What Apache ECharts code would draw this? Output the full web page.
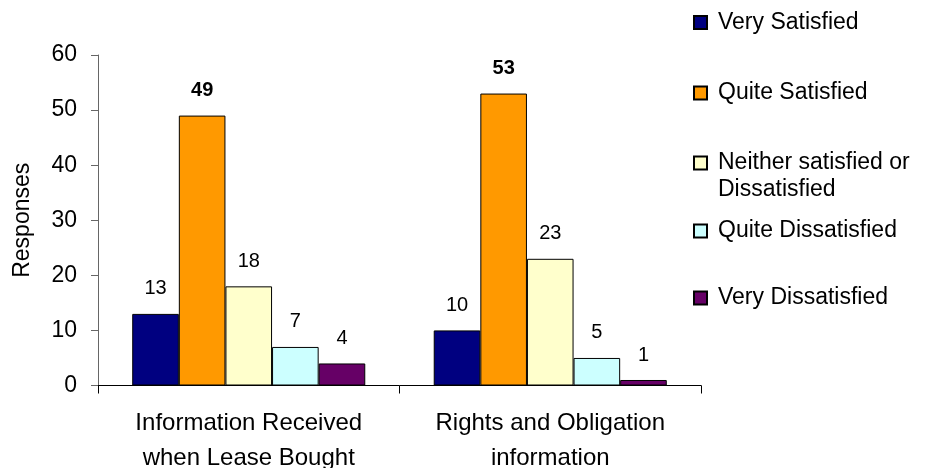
<!DOCTYPE html>
<html>
<head>
<meta charset="utf-8">
<script src="https://cdn.jsdelivr.net/npm/echarts@6/dist/echarts.min.js"></script>
<style>
  html, body { margin: 0; padding: 0; background: #fff; }
  #chart { width: 928px; height: 468px; }
</style>
</head>
<body>
<div id="chart"></div>
<script>
// Survey responses per information topic, split by satisfaction level
const categories = [
  'Information Received\nwhen Lease Bought',
  'Rights and Obligation\ninformation'
];
const seriesNames = [
  'Very Satisfied',
  'Quite Satisfied',
  'Neither satisfied or Dissatisfied',
  'Quite Dissatisfied',
  'Very Dissatisfied'
];
const legendLabels = [
  'Very Satisfied',
  'Quite Satisfied',
  'Neither satisfied or\nDissatisfied',
  'Quite Dissatisfied',
  'Very Dissatisfied'
];
const verySatisfied = [13, 10];
const quiteSatisfied = [49, 53];
const neither = [18, 23];
const quiteDissatisfied = [7, 5];
const veryDissatisfied = [4, 1];
const yTicks = [0, 10, 20, 30, 40, 50, 60];

const seriesValues = [verySatisfied, quiteSatisfied, neither, quiteDissatisfied, veryDissatisfied];
const colors = ['#000080', '#FF9900', '#FFFFCC', '#CCFFFF', '#660066'];
const boldLabel = [false, true, false, false, false];
const legendTops = [9, 79.5, 122.5, 217.5, 284.5];

const FONT = 'Arial, "Liberation Sans", sans-serif';

const chart = echarts.init(document.getElementById('chart'), null, { renderer: 'canvas' });

const series = seriesNames.map((name, i) => ({
  name: name,
  type: 'bar',
  data: seriesValues[i],
  barGap: '0%',
  barCategoryGap: '22.7%',
  itemStyle: { color: colors[i], borderColor: '#000', borderWidth: 1 },
  label: {
    show: true,
    position: 'top',
    distance: 15,
    color: '#000',
    fontFamily: FONT,
    fontSize: 20,
    fontWeight: boldLabel[i] ? 'bold' : 'normal'
  },
  emphasis: { disabled: true },
  animation: false
}));

// Multi-line entries keep their marker beside the first line: an empty
// leading line puts the first text line in the middle of the block.
const legendText = (label) => {
  const lines = label.split('\n');
  return lines.length > 1 ? '\n' + label : label;
};

const legends = seriesNames.map((name, i) => ({
  left: 693,
  top: legendTops[i],
  orient: 'vertical',
  padding: 0,
  icon: 'rect',
  itemWidth: 13,
  itemHeight: 13,
  selectedMode: false,
  data: [name],
  formatter: () => legendText(legendLabels[i]),
  textStyle: {
    color: '#000',
    fontFamily: FONT,
    fontSize: 23,
    lineHeight: 27,
    padding: [0, 0, 0, 6]
  }
}));

chart.setOption({
  animation: false,
  backgroundColor: '#fff',
  grid: { left: 98, right: 227, top: 55, bottom: 82.5, containLabel: false, outerBoundsMode: 'none' },
  legend: legends,
  xAxis: {
    type: 'category',
    data: categories,
    axisLine: { show: true, lineStyle: { color: '#000', width: 1 } },
    axisTick: { show: true, alignWithLabel: false, length: 8, lineStyle: { color: '#000' } },
    axisLabel: {
      color: '#000',
      fontFamily: FONT,
      fontSize: 24,
      lineHeight: 35,
      margin: 20,
      interval: 0
    },
    splitLine: { show: false }
  },
  yAxis: {
    type: 'value',
    min: yTicks[0],
    max: yTicks[yTicks.length - 1],
    interval: yTicks[1] - yTicks[0],
    name: 'Responses',
    nameLocation: 'middle',
    nameGap: 64,
    nameTextStyle: { color: '#000', fontFamily: FONT, fontSize: 23 },
    axisLine: { show: true, lineStyle: { color: '#666', width: 1 } },
    axisTick: { show: true, length: 7, lineStyle: { color: '#666' } },
    axisLabel: { color: '#000', fontFamily: FONT, fontSize: 23, margin: 21 },
    splitLine: { show: false }
  },
  series: series
});
</script>
</body>
</html>
